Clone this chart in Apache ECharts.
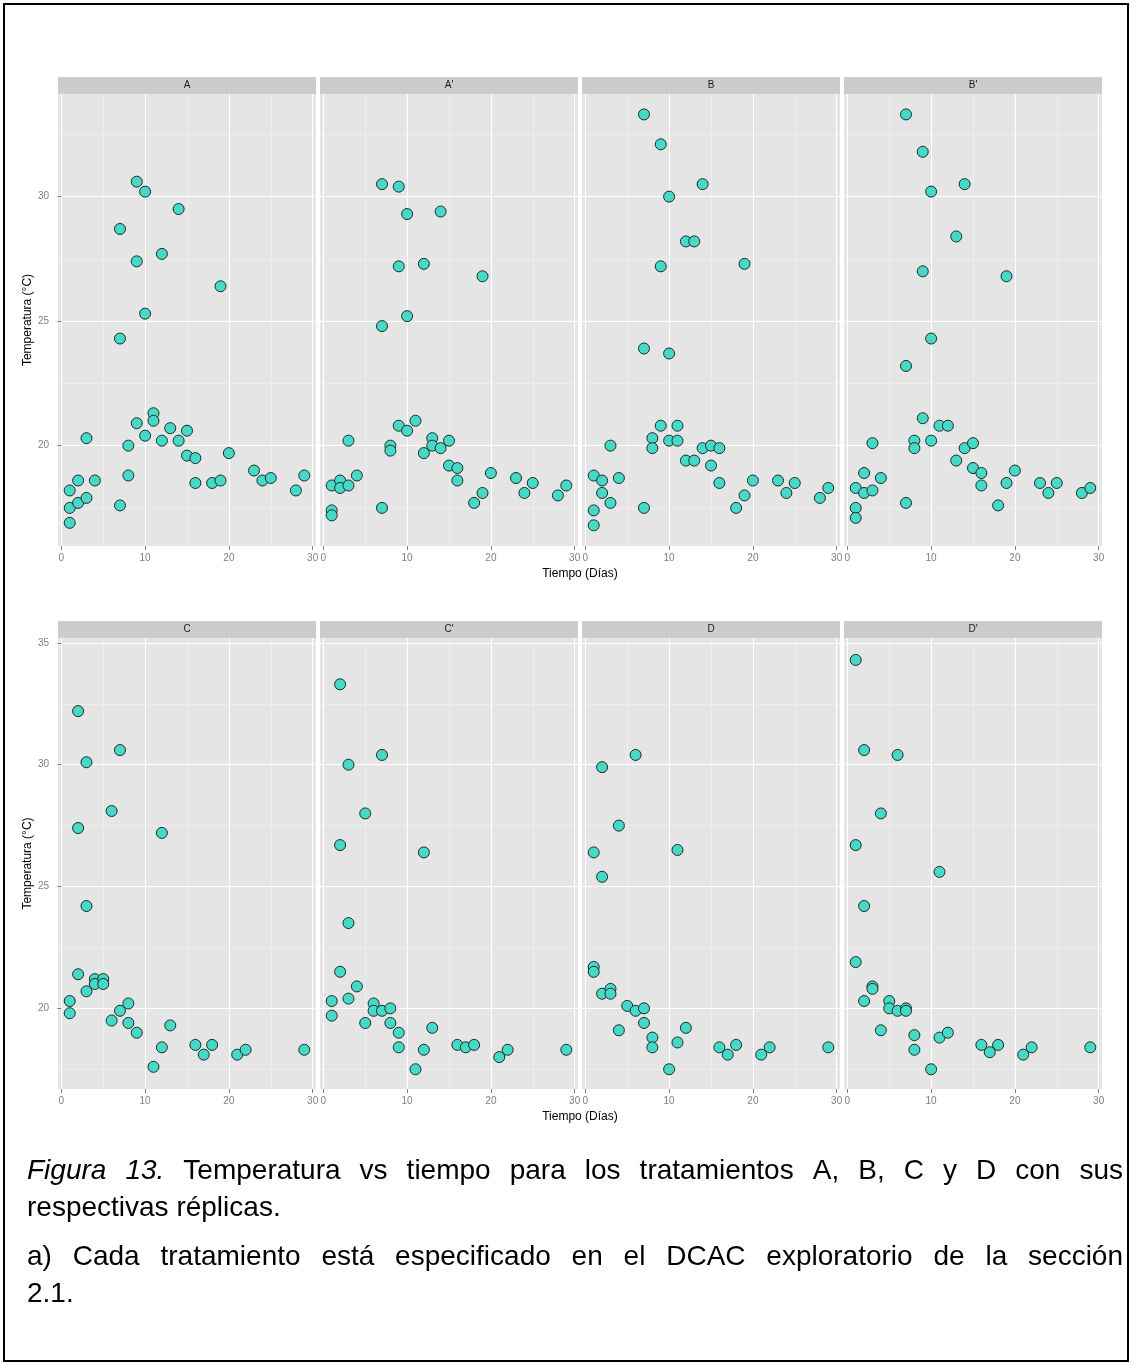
<!DOCTYPE html>
<html><head><meta charset="utf-8">
<script src="https://cdn.jsdelivr.net/npm/echarts@6/dist/echarts.min.js"></script>
<style>html,body{margin:0;padding:0;background:#fff}#c{width:1132px;height:1365px}</style>
</head><body><div id="c"></div><script>
// ---------- data ----------
const panelNames = ['A', "A'", 'B', "B'", 'C', "C'", 'D', "D'"];
const xTicks = [0, 10, 20, 30];
const xMinor = [5, 15, 25];
const yTicksTop = [20, 25, 30];
const yTicksBottom = [20, 25, 30, 35];
const yMinor = [17.5, 22.5, 27.5, 32.5];
const xTitle = 'Tiempo (Días)';
const yTitle = 'Temperatura (°C)';

const datosA = [[1,18.2],[1,17.5],[1,16.9],[2,18.6],[2,17.7],[3,20.3],[3,17.9],[4,18.6],[7,28.7],[7,24.3],[7,17.6],[8,20.0],[8,18.8],[9,30.6],[9,27.4],[9,20.9],[10,30.2],[10,25.3],[10,20.4],[11,21.3],[11,21.0],[12,27.7],[12,20.2],[13,20.7],[14,29.5],[14,20.2],[15,20.6],[15,19.6],[16,19.5],[16,18.5],[18,18.5],[19,26.4],[19,18.6],[20,19.7],[23,19.0],[24,18.6],[25,18.7],[28,18.2],[29,18.8]];
const datosA2 = [[1,18.4],[1,17.4],[1,17.2],[2,18.6],[2,18.3],[3,20.2],[3,18.4],[4,18.8],[7,30.5],[7,24.8],[7,17.5],[8,20.0],[8,19.8],[9,30.4],[9,27.2],[9,20.8],[10,29.3],[10,25.2],[10,20.6],[11,21.0],[12,27.3],[12,19.7],[13,20.3],[13,20.0],[14,29.4],[14,19.9],[15,20.2],[15,19.2],[16,19.1],[16,18.6],[18,17.7],[19,26.8],[19,18.1],[20,18.9],[23,18.7],[24,18.1],[25,18.5],[28,18.0],[29,18.4]];
const datosB = [[1,18.8],[1,17.4],[1,16.8],[2,18.6],[2,18.1],[3,20.0],[3,17.7],[4,18.7],[7,33.3],[7,23.9],[7,17.5],[8,20.3],[8,19.9],[9,32.1],[9,27.2],[9,20.8],[10,30.0],[10,23.7],[10,20.2],[11,20.8],[11,20.2],[12,28.2],[12,19.4],[13,28.2],[13,19.4],[14,30.5],[14,19.9],[15,20.0],[15,19.2],[16,19.9],[16,18.5],[18,17.5],[19,27.3],[19,18.0],[20,18.6],[23,18.6],[24,18.1],[25,18.5],[28,17.9],[29,18.3]];
const datosB2 = [[1,18.3],[1,17.5],[1,17.1],[2,18.9],[2,18.1],[3,20.1],[3,18.2],[4,18.7],[7,33.3],[7,23.2],[7,17.7],[8,20.2],[8,19.9],[9,31.8],[9,27.0],[9,21.1],[10,30.2],[10,24.3],[10,20.2],[11,20.8],[12,20.8],[13,28.4],[13,19.4],[14,30.5],[14,19.9],[15,20.1],[15,19.1],[16,18.9],[16,18.4],[18,17.6],[19,26.8],[19,18.5],[20,19.0],[23,18.5],[24,18.1],[25,18.5],[28,18.1],[29,18.3]];
const datosC = [[1,20.3],[1,19.8],[2,32.2],[2,27.4],[2,21.4],[3,30.1],[3,24.2],[3,20.7],[4,21.2],[4,21.0],[5,21.2],[5,21.0],[6,28.1],[6,19.5],[7,30.6],[7,19.9],[8,20.2],[8,19.4],[9,19.0],[11,17.6],[12,27.2],[12,18.4],[13,19.3],[16,18.5],[17,18.1],[18,18.5],[21,18.1],[22,18.3],[29,18.3]];
const datosC2 = [[1,20.3],[1,19.7],[2,33.3],[2,26.7],[2,21.5],[3,30.0],[3,23.5],[3,20.4],[4,20.9],[5,28.0],[5,19.4],[6,20.2],[6,19.9],[7,30.4],[7,19.9],[8,20.0],[8,19.4],[9,19.0],[9,18.4],[11,17.5],[12,26.4],[12,18.3],[13,19.2],[16,18.5],[17,18.4],[18,18.5],[21,18.0],[22,18.3],[29,18.3]];
const datosD = [[1,26.4],[1,21.7],[1,21.5],[2,29.9],[2,25.4],[2,20.6],[3,20.8],[3,20.6],[4,27.5],[4,19.1],[5,20.1],[6,30.4],[6,19.9],[7,20.0],[7,19.4],[8,18.8],[8,18.4],[10,17.5],[11,26.5],[11,18.6],[12,19.2],[16,18.4],[17,18.1],[18,18.5],[21,18.1],[22,18.4],[29,18.4]];
const datosD2 = [[1,34.3],[1,26.7],[1,21.9],[2,30.6],[2,24.2],[2,20.3],[3,20.9],[3,20.8],[4,28.0],[4,19.1],[5,20.3],[5,20.0],[6,30.4],[6,19.9],[7,20.0],[7,19.9],[8,18.9],[8,18.3],[10,17.5],[11,25.6],[11,18.8],[12,19.0],[16,18.5],[17,18.2],[18,18.5],[21,18.1],[22,18.4],[29,18.4]];
const allData = [datosA, datosA2, datosB, datosB2, datosC, datosC2, datosD, datosD2];

const captionP1 = ['Figura 13. Temperatura vs tiempo para los tratamientos A, B, C y D con sus', 'respectivas réplicas.'];
const captionP2 = ['a) Cada tratamiento está especificado en el DCAC exploratorio de la sección', '2.1.'];

// ---------- layout ----------
const FONT = '"Liberation Sans", Arial, Helvetica, sans-serif';
const colLeft = [58, 320, 582, 844];
const panelW = 258;
const rows = [
  {top: 94, h: 452, stripTop: 77, ymin: 15.97, ymax: 34.12, ticks: yTicksTop, xTitleY: 574},
  {top: 638, h: 451, stripTop: 621, ymin: 16.69, ymax: 35.2, ticks: yTicksBottom, xTitleY: 1117}
];

const grid = [], xAxis = [], yAxis = [], series = [], graphic = [];

// outer frame
graphic.push({type: 'rect', shape: {x: 4, y: 4, width: 1124, height: 1357}, style: {fill: 'none', stroke: '#000', lineWidth: 2}, z: 100});

for (let i = 0; i < 8; i++) {
  const r = rows[Math.floor(i / 4)], c = i % 4;
  grid.push({left: colLeft[c], top: r.top, width: panelW, height: r.h, show: true, backgroundColor: '#E5E5E5', borderWidth: 0});
  xAxis.push({gridIndex: i, type: 'value', min: -0.4, max: 30.4,
    axisLine: {show: false},
    axisTick: {show: true, customValues: xTicks, length: 4, lineStyle: {color: '#7F7F7F', width: 1}},
    axisLabel: {show: true, customValues: xTicks, color: '#7F7F7F', fontSize: 10, fontFamily: FONT, margin: 7},
    splitLine: {show: true, lineStyle: {color: '#FFFFFF', width: 1.1}}});
  xAxis.push({gridIndex: i, type: 'value', min: -0.4, max: 30.4,
    axisLine: {show: false}, axisTick: {show: false, customValues: xMinor}, axisLabel: {show: false, customValues: xMinor},
    splitLine: {show: true, lineStyle: {color: '#F2F2F2', width: 0.6}}});
  const showY = c === 0;
  yAxis.push({gridIndex: i, type: 'value', min: r.ymin, max: r.ymax,
    axisLine: {show: false},
    axisTick: {show: showY, customValues: r.ticks, length: 4, lineStyle: {color: '#7F7F7F', width: 1}},
    axisLabel: {show: showY, customValues: r.ticks, color: '#7F7F7F', fontSize: 10, fontFamily: FONT, margin: 9},
    splitLine: {show: true, lineStyle: {color: '#FFFFFF', width: 1.1}},
    name: showY ? yTitle : '', nameLocation: 'middle', nameGap: 22,
    nameTextStyle: {color: '#000', fontSize: 12, fontFamily: FONT}});
  yAxis.push({gridIndex: i, type: 'value', min: r.ymin, max: r.ymax,
    axisLine: {show: false}, axisTick: {show: false, customValues: yMinor}, axisLabel: {show: false, customValues: yMinor},
    splitLine: {show: true, lineStyle: {color: '#F2F2F2', width: 0.6}}});
  series.push({type: 'scatter', xAxisIndex: 2 * i, yAxisIndex: 2 * i, data: allData[i],
    symbol: 'circle', symbolSize: 11, silent: true,
    itemStyle: {color: '#46D9C8', borderColor: '#1E2B28', borderWidth: 1, opacity: 1}});
  graphic.push({type: 'rect', shape: {x: colLeft[c], y: r.stripTop, width: panelW, height: r.top - r.stripTop}, style: {fill: '#CCCCCC'}});
  graphic.push({type: 'text', x: colLeft[c] + panelW / 2, y: r.stripTop + (r.top - r.stripTop) / 2,
    style: {text: panelNames[i], fill: '#1A1A1A', fontSize: 10, fontFamily: FONT, align: 'center', verticalAlign: 'middle'}});
}
rows.forEach(r => {
  graphic.push({type: 'text', x: 580, y: r.xTitleY, style: {text: xTitle, fill: '#000', fontSize: 12, fontFamily: FONT, align: 'center', verticalAlign: 'middle'}});
});

// caption (justified like the document)
const capSize = 28;
const ctx = document.createElement('canvas').getContext('2d');
function measure(t, italic) { ctx.font = (italic ? 'italic ' : '') + capSize + 'px "Liberation Sans"'; return ctx.measureText(t).width; }
function addLine(text, y, justify, italicCount) {
  const x0 = 27, x1 = 1123;
  const words = text.split(' ');
  const widths = words.map((w, k) => measure(w, k < italicCount));
  const total = widths.reduce((a, b) => a + b, 0);
  const gap = justify ? (x1 - x0 - total) / (words.length - 1) : measure(' ', false);
  let x = x0;
  words.forEach((w, k) => {
    graphic.push({type: 'text', x: x, y: y, style: {text: w, fill: '#000', fontSize: capSize, fontFamily: FONT,
      fontStyle: k < italicCount ? 'italic' : 'normal', align: 'left', verticalAlign: 'middle'}});
    x += widths[k] + gap;
  });
}
addLine(captionP1[0], 1171, true, 2);
addLine(captionP1[1], 1208, false, 0);
addLine(captionP2[0], 1257, true, 0);
addLine(captionP2[1], 1294, false, 0);

const chart = echarts.init(document.getElementById('c'), null, {renderer: 'canvas'});
chart.setOption({animation: false, backgroundColor: '#fff', grid, xAxis, yAxis, series, graphic});
</script></body></html>
